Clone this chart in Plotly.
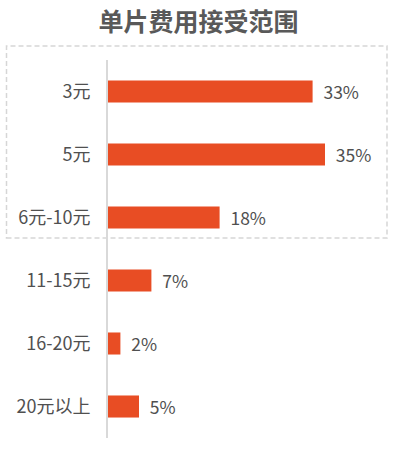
import plotly.graph_objects as go

categories = ["3元", "5元", "6元-10元", "11-15元", "16-20元", "20元以上"]
values = [33, 35, 18, 7, 2, 5]
value_labels = ["33%", "35%", "18%", "7%", "2%", "5%"]
title = "单片费用接受范围"

W, H = 397, 449
ml, mr, mt, mb = 108, 10, 60, 11

fig = go.Figure(go.Bar(
    x=values, y=categories, orientation="h",
    marker=dict(color="#E84D24", line=dict(width=0)),
    text=["  " + t for t in value_labels], textposition="outside", constraintext="none",
    textfont=dict(size=17.5, color="#505050", family="Noto Sans CJK SC"),
    cliponaxis=False, width=0.35,
))

pw = W - ml - mr
ph = H - mt - mb
fig.add_shape(type="rect", xref="paper", yref="paper",
              x0=(6.5 - ml) / pw, x1=(387 - ml) / pw,
              y0=(H - mb - 238) / ph, y1=(H - mb - 46) / ph,
              line=dict(color="#D6D6D6", width=1.5, dash="5px,3px"), layer="below")

fig.update_layout(
    width=W, height=H,
    margin=dict(l=ml, r=mr, t=mt, b=mb, autoexpand=False),
    paper_bgcolor="white", plot_bgcolor="white",
    title=dict(text=f"<b>{title}</b>", x=0.5, xanchor="center", y=1 - 22 / H, yanchor="middle",
               font=dict(size=25, color="#595959", family="Noto Sans CJK SC")),
    xaxis=dict(range=[0, 45], visible=False, fixedrange=True, automargin=False),
    yaxis=dict(autorange="reversed", showline=True, linecolor="#D9D9D9", linewidth=2,
               showgrid=False, zeroline=False, ticks="", ticklabelstandoff=12, automargin=False,
               tickfont=dict(size=18, color="#505050", family="Noto Sans CJK SC")),
    showlegend=False,
)
fig.write_html("out.html", config={"displayModeBar": False},
               post_script="document.body.style.margin='0px';")
